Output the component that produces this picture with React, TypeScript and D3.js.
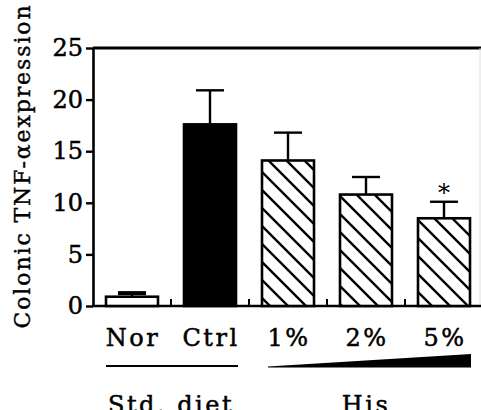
import React, { useRef, useEffect } from "react";
import * as d3 from "d3";

const GROUPS = ["Nor", "Ctrl", "1%", "2%", "5%"];
const MEANS = [0.9, 17.6, 14.1, 10.8, 8.5];
const ERRORS = [0.35, 3.3, 2.7, 1.7, 1.6];
const FILLS = ["white", "black", "hatch", "hatch", "hatch"];
const SIGNIF = ["", "", "", "", "*"];
const Y_TICKS = [0, 5, 10, 15, 20, 25];

const W = 481;
const H = 410;
const FONT = "'DejaVu Serif', serif";

export default function App() {
  const svgRef = useRef<SVGSVGElement | null>(null);

  useEffect(() => {
    const svg = d3.select(svgRef.current);
    svg.selectAll("*").remove();

    const left = 93;
    const top = 48;
    const bottom = 306;

    const x = d3
      .scaleBand<string>()
      .domain(GROUPS)
      .range([left, left + 390])
      .paddingInner(1 / 3)
      .paddingOuter(1 / 6);
    const y = d3.scaleLinear().domain([0, 25]).range([bottom, top]);

    // hatch pattern
    const defs = svg.append("defs");
    const pat = defs
      .append("pattern")
      .attr("id", "hatch")
      .attr("patternUnits", "userSpaceOnUse")
      .attr("width", 18)
      .attr("height", 18);
    pat.append("rect").attr("width", 18).attr("height", 18).attr("fill", "white");
    pat
      .append("path")
      .attr("d", "M0,0L18,18 M-9,9L9,27 M9,-9L27,9")
      .attr("stroke", "black")
      .attr("stroke-width", 2.4);

    // frame top + faint right
    svg
      .append("line")
      .attr("x1", left)
      .attr("x2", W)
      .attr("y1", top)
      .attr("y2", top)
      .attr("stroke", "black")
      .attr("stroke-width", 3);
    svg
      .append("line")
      .attr("x1", 480)
      .attr("x2", 480)
      .attr("y1", top)
      .attr("y2", bottom)
      .attr("stroke", "#ddd")
      .attr("stroke-width", 1);

    // y axis
    const yAxis = svg
      .append("g")
      .attr("transform", `translate(${left},0)`)
      .call(
        d3
          .axisLeft(y)
          .tickValues(Y_TICKS)
          .tickSize(7)
          .tickPadding(3)
          .tickSizeOuter(0)
      );
    yAxis.select(".domain").attr("stroke-width", 2.6);
    yAxis.selectAll(".tick line").attr("stroke-width", 2.4);
    yAxis
      .selectAll(".tick text")
      .attr("font-family", FONT)
      .attr("font-size", 24)
      .attr("fill", "black")
      .attr("stroke", "black")
      .attr("stroke-width", 0.5);

    // baseline
    svg
      .append("line")
      .attr("x1", left - 1)
      .attr("x2", W)
      .attr("y1", bottom)
      .attr("y2", bottom)
      .attr("stroke", "black")
      .attr("stroke-width", 2.6);

    // separator ticks
    const half = (x.step() * x.paddingInner()) / 2;
    svg
      .append("g")
      .selectAll("line")
      .data(GROUPS.slice(1))
      .join("line")
      .attr("x1", (g) => (x(g) as number) - half)
      .attr("x2", (g) => (x(g) as number) - half)
      .attr("y1", bottom)
      .attr("y2", bottom - 7)
      .attr("stroke", "black")
      .attr("stroke-width", 2);

    const bw = x.bandwidth();
    const data = GROUPS.map((g, i) => ({
      g,
      mean: MEANS[i],
      err: ERRORS[i],
      fill: FILLS[i],
      sig: SIGNIF[i],
    }));

    // error bars (behind bars)
    const eb = svg.append("g");
    eb.selectAll("line.v")
      .data(data)
      .join("line")
      .attr("class", "v")
      .attr("x1", (d) => (x(d.g) as number) + bw / 2)
      .attr("x2", (d) => (x(d.g) as number) + bw / 2)
      .attr("y1", (d) => y(d.mean))
      .attr("y2", (d) => y(d.mean + d.err))
      .attr("stroke", "black")
      .attr("stroke-width", 2.4);
    eb.selectAll("line.c")
      .data(data)
      .join("line")
      .attr("class", "c")
      .attr("x1", (d) => (x(d.g) as number) + bw / 2 - 14)
      .attr("x2", (d) => (x(d.g) as number) + bw / 2 + 14)
      .attr("y1", (d) => y(d.mean + d.err))
      .attr("y2", (d) => y(d.mean + d.err))
      .attr("stroke", "black")
      .attr("stroke-width", (d, i) => (i === 0 ? 4 : 2.4));

    // bars
    svg
      .append("g")
      .selectAll("rect")
      .data(data)
      .join("rect")
      .attr("x", (d) => x(d.g) as number)
      .attr("y", (d) => y(d.mean))
      .attr("width", bw)
      .attr("height", (d) => bottom - y(d.mean))
      .attr("fill", (d) => (d.fill === "hatch" ? "url(#hatch)" : d.fill))
      .attr("stroke", "black")
      .attr("stroke-width", 2.6);

    // significance
    svg
      .append("g")
      .selectAll("text")
      .data(data.filter((d) => d.sig))
      .join("text")
      .attr("x", (d) => (x(d.g) as number) + bw / 2)
      .attr("y", (d) => y(d.mean + d.err) - 1)
      .attr("text-anchor", "middle")
      .attr("font-family", FONT)
      .attr("font-size", 24)
      .text((d) => d.sig);

    const label = (sel: any) =>
      sel
        .attr("text-anchor", "middle")
        .attr("font-family", FONT)
        .attr("font-size", 24)
        .attr("letter-spacing", 2.5)
        .attr("stroke", "black")
        .attr("stroke-width", 0.5);

    // category labels
    svg
      .append("g")
      .selectAll("text")
      .data(GROUPS)
      .join("text")
      .attr("x", (g) => (x(g) as number) + bw / 2 + 1)
      .attr("y", 346)
      .call(label)
      .text((g) => g);

    // Std. diet line
    svg
      .append("line")
      .attr("x1", x("Nor") as number)
      .attr("x2", (x("Ctrl") as number) + bw + 2)
      .attr("y1", 366)
      .attr("y2", 366)
      .attr("stroke", "black")
      .attr("stroke-width", 2);

    // His wedge
    const wx0 = (x("1%") as number) + 6;
    const wx1 = (x("5%") as number) + bw + 1;
    svg
      .append("path")
      .attr("d", `M${wx0},366.5L${wx1},354L${wx1},367.5L${wx0},367.5Z`)
      .attr("fill", "black");

    // group labels (cut by the bottom edge, as in the original)
    svg
      .append("text")
      .attr("x", ((x("Nor") as number) + (x("Ctrl") as number) + bw) / 2)
      .attr("y", 413)
      .call(label)
      .text("Std. diet");
    svg
      .append("text")
      .attr("x", ((x("1%") as number) + (x("5%") as number) + bw) / 2)
      .attr("y", 413)
      .call(label)
      .text("His");

    // y title
    svg
      .append("text")
      .attr("transform", `translate(30,166) rotate(-90)`)
      .attr("text-anchor", "middle")
      .attr("font-family", FONT)
      .attr("font-size", 22)
      .attr("letter-spacing", 1.9)
      .attr("stroke", "black")
      .attr("stroke-width", 0.4)
      .text("Colonic TNF-\u03b1expression");
  }, []);

  return (
    <svg
      ref={svgRef}
      width={W}
      height={H}
      style={{ position: "absolute", left: 0, top: 0, background: "white" }}
    />
  );
}
